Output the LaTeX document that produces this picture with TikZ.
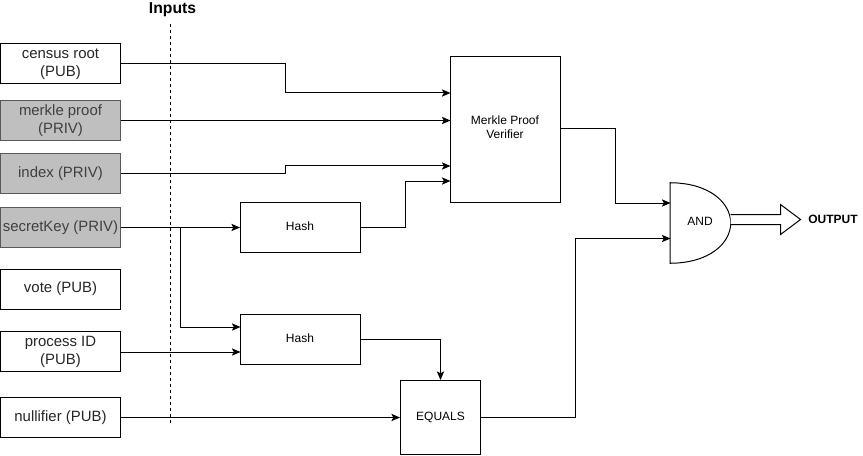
\documentclass[tikz,border=0pt]{standalone}
\usepackage{fontspec}
\setmainfont{Liberation Sans}
\usetikzlibrary{arrows.meta,calc}
\tikzset{
  x=0.75pt,y=-0.75pt,
  inbox/.style={draw=black,fill=white,line width=0.75pt,minimum width=90pt,minimum height=30pt,inner sep=0pt,align=center,font=\fontsize{11.2pt}{13.8pt}\selectfont,text=black!85},
  privbox/.style={inbox,draw=black!65,fill=black!25,text=black!75},
  opbox/.style={draw=black,fill=white,line width=0.75pt,inner sep=0pt,align=center,font=\fontsize{9pt}{10.8pt}\selectfont},
  wire/.style={draw=black,line width=0.75pt,-{Stealth[length=6.5pt,width=5.5pt,inset=1.5pt]}},
  lab/.style={inner sep=0pt,font=\fontsize{9pt}{11pt}\selectfont\bfseries},
}
\begin{document}
\begin{tikzpicture}
\useasboundingbox (0,0) rectangle (863,456);
\node[inbox] (census) at (60.5,63.5) {};
\node[inbox,draw=none,fill=none] at (60.5,64.2) {census root\\(PUB)};
\node[privbox] (merkle) at (60.5,120.5) {};
\node[inbox,draw=none,fill=none,text=black!75] at (60.5,120.8) {merkle proof\\(PRIV)};
\node[privbox] (index) at (60.5,173.5) {index (PRIV)};
\node[privbox] (secret) at (60.5,227.5) {secretKey (PRIV)};
\node[inbox] (vote) at (60.5,289) {vote (PUB)};
\node[inbox] (process) at (60.5,351.5) {};
\node[inbox,draw=none,fill=none] at (60.5,352) {process ID\hspace{4.5pt}\\(PUB)};
\node[inbox] (null) at (60.5,417.5) {nullifier (PUB)};
\node[opbox,minimum width=90pt,minimum height=37.5pt] (hashA) at (300.5,227.5) {};
\node[opbox,draw=none,fill=none] at (300,226) {Hash};
\node[opbox,minimum width=90pt,minimum height=37.5pt] (hashB) at (300.5,339.5) {};
\node[opbox,draw=none,fill=none] at (300,338) {Hash};
\node[opbox,minimum width=60pt,minimum height=55.5pt] (equals) at (440.5,417.5) {EQUALS};
\node[opbox,minimum width=82.5pt,minimum height=109.5pt] (verifier) at (505.5,129.5) {};
\node[opbox,draw=none,fill=none] at (505,127) {Merkle Proof\\Verifier};
\node[inner sep=0pt,minimum width=45pt,minimum height=60pt] (gate) at (700.5,223) {};
\draw[line width=0.75pt,fill=white] (gate.north west) .. controls (710,183) and (730.5,203) .. (gate.east) .. controls (730.5,243) and (710,263) .. (gate.south west) -- cycle;
\node[opbox,draw=none,fill=none] at (700,221.5) {AND};
\node[lab,font=\fontsize{11.8pt}{14pt}\selectfont\bfseries] (inputs) at (172.5,9.5) {Inputs};
\coordinate (dashtop) at (170.5,24);
\coordinate (dashbot) at (170.5,423);
\draw[black,dashed,line width=0.75pt,dash pattern=on 2.25pt off 2.25pt] (dashtop) -- (dashbot);
\coordinate (v1) at (450.5,93);
\coordinate (v2) at (450.5,120.5);
\coordinate (v3) at (450.5,166);
\coordinate (v4) at (450.5,181);
\coordinate (g1) at (670.5,203);
\coordinate (g2) at (670.5,238.5);
\coordinate (branch) at (180.5,227.5);
\coordinate (hB1) at (240.5,327);
\coordinate (hB2) at (240.5,352);
\draw[wire] (census.east) -- (285.5,63.5) -- (285.5,93) -- (v1);
\draw[wire] (merkle.east) -- (v2);
\draw[wire] (index.east) -- (285.5,173.5) -- (285.5,166) -- (v3);
\draw[wire] (hashA.east) -- (405.5,227.5) -- (405.5,181) -- (v4);
\draw[wire] (secret.east) -- (hashA.west);
\draw[wire] (branch) -- (180.5,327) -- (hB1);
\draw[wire] (process.east |- hB2) -- (hB2);
\draw[wire] (hashB.east) -- (440.5,339.5) -- (equals.north);
\draw[wire] (null.east) -- (equals.west);
\draw[wire] (equals.east) -- (575.5,417.5) -- (575.5,238.5) -- (g2);
\draw[wire] (verifier.east |- 0,129) -- (615.5,129) -- (615.5,203) -- (g1);
\node[lab,anchor=west] (output) at (808,219.5) {OUTPUT};
\coordinate (tip) at (800.5,219.5);
\draw[line width=0.75pt,fill=white] (730.5,214.5) -- (780.5,214.5) -- (780.5,204.5) -- (tip) -- (780.5,234.5) -- (780.5,224.5) -- (730.5,224.5);
\end{tikzpicture}
\end{document}
